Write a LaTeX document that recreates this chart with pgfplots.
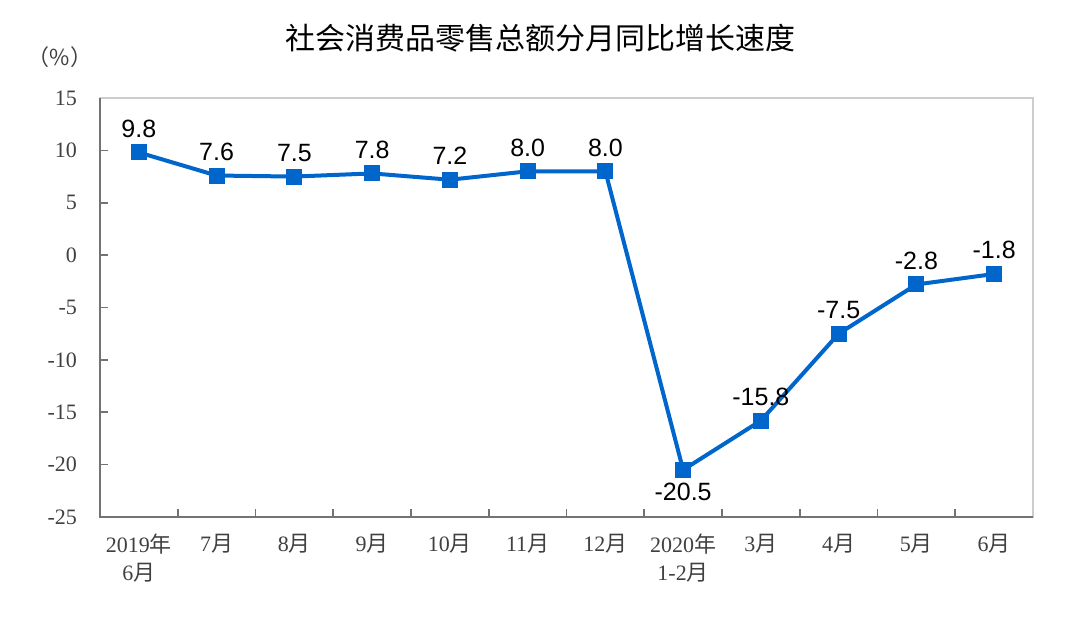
\documentclass[border=0pt]{standalone}
\usepackage{fontspec}
\setmainfont{Liberation Serif}
\setsansfont{Liberation Sans}
\newfontfamily\cjk{Noto Sans CJK SC}
\usepackage{pgfplots}
\pgfplotsset{compat=1.18}
\definecolor{lineblue}{RGB}{0,102,204}
\definecolor{axdark}{RGB}{115,115,115}
\definecolor{axlight}{RGB}{205,205,205}

\begin{document}
\begin{tikzpicture}
\useasboundingbox (-50pt,-52.5pt) rectangle (490pt,258.5pt);
\begin{axis}[
  scale only axis,
  width=466.5pt, height=209.5pt,
  xmin=-0.5, xmax=11.5,
  ymin=-25, ymax=15,
  ytick={-25,-20,...,15},
  xtick={-0.5,0.5,...,11.5},
  x tick label as interval,
  xticklabels={{2019{\cjk 年}\\6{\cjk 月}},7{\cjk 月},8{\cjk 月},9{\cjk 月},10{\cjk 月},11{\cjk 月},12{\cjk 月},{2020{\cjk 年}\\1-2{\cjk 月}},3{\cjk 月},4{\cjk 月},5{\cjk 月},6{\cjk 月}},
  xtick pos=bottom, ytick pos=left,
  tick align=inside,
  major tick length=4pt,
  tick style={axdark, line width=0.8pt},
  axis line style={axlight, line width=0.8pt},
  /pgf/number format/assume math mode=true,
  ticklabel style={font=\fontsize{11}{14}\selectfont, text=black!75},
  xticklabel style={align=center, anchor=north, yshift=-5pt},
  yticklabel style={xshift=-8pt},
  nodes near coords={\pgfmathprintnumber[fixed,fixed zerofill,precision=1]{\pgfplotspointmeta}},
  nodes near coords style={font=\sffamily\fontsize{12.5}{14}\selectfont, text=black, anchor=south, yshift=4pt},
  clip=false,
]
% line with markers
\addplot[color=lineblue, line width=2pt, mark=square*, mark size=3pt,
  mark options={solid, fill=lineblue}, nodes near coords=]
  coordinates {
  (0,9.8) (1,7.6) (2,7.5) (3,7.8) (4,7.2) (5,8.0) (6,8.0)
  (7,-20.5) (8,-15.8) (9,-7.5) (10,-2.8) (11,-1.8)
};
% labels above
\addplot[draw=none, mark=none] coordinates {
  (0,9.8) (1,7.6) (2,7.5) (3,7.8) (4,7.2) (5,8.0) (6,8.0)
  (8,-15.8) (9,-7.5) (10,-2.8) (11,-1.8)
};
% label below
\addplot[draw=none, mark=none, nodes near coords style={anchor=north, yshift=-7pt}]
  coordinates {(7,-20.5)};
\draw[axdark, line width=1.2pt] (rel axis cs:0,1) -- (rel axis cs:0,0) -- (rel axis cs:1,0);
\end{axis}
\node[font=\cjk\fontsize{15}{18}\selectfont] at (220pt,239.5pt) {社会消费品零售总额分月同比增长速度};
\node[font=\cjk\fontsize{11}{13}\selectfont, text=black!75] at (-20pt,230pt) {（\%）};
\end{tikzpicture}
\end{document}
